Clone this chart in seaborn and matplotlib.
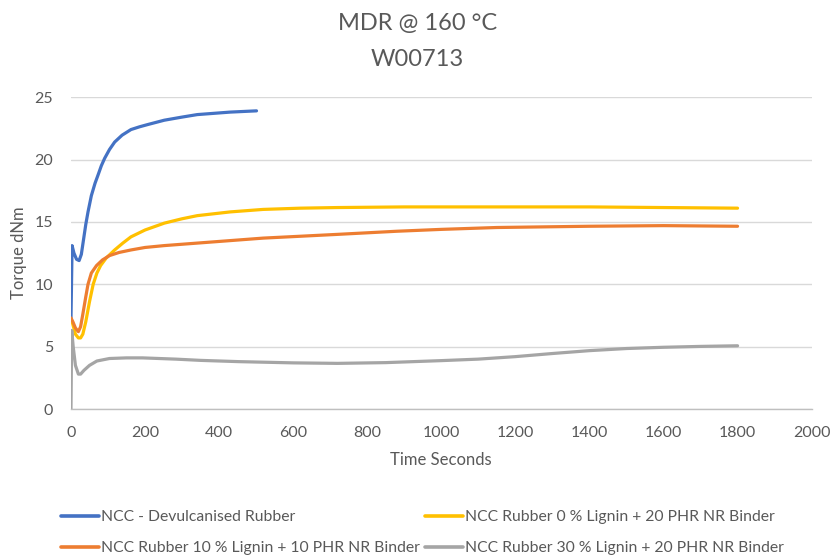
import matplotlib
matplotlib.use("Agg")
import matplotlib.pyplot as plt
import seaborn as sns
import pandas as pd

# MDR cure curves at 160 °C, torque (dNm) vs time (s)
t_devulc = [0, 3, 8, 15, 22, 28, 33, 40, 46, 55, 65, 73, 82, 91, 104, 118, 138, 162, 185, 207,
            252, 300, 341, 430, 501]
v_devulc = [7.1, 13.1, 12.5, 12.0, 11.9, 12.4, 13.4, 14.8, 15.8, 17.1, 18.1, 18.75, 19.5, 20.1,
            20.8, 21.4, 21.95, 22.4, 22.62, 22.8, 23.15, 23.4, 23.6, 23.8, 23.9]

t_lig0 = [0, 5, 12, 20, 26, 32, 40, 50, 60, 70, 80, 95, 118, 140, 162, 200, 252, 300, 341, 430,
          519, 620, 720, 900, 1150, 1400, 1600, 1800]
v_lig0 = [7.2, 6.8, 6.0, 5.7, 5.7, 6.0, 7.0, 8.6, 10.0, 10.9, 11.5, 12.1, 12.75, 13.3, 13.8,
          14.35, 14.9, 15.25, 15.5, 15.8, 16.0, 16.1, 16.15, 16.2, 16.2, 16.2, 16.15, 16.1]

t_lig10 = [0, 5, 12, 20, 26, 32, 40, 46, 55, 69, 85, 104, 130, 162, 200, 252, 341, 430, 519,
           620, 720, 880, 1000, 1150, 1400, 1600, 1800]
v_lig10 = [7.3, 7.0, 6.5, 6.2, 6.6, 7.6, 9.0, 10.0, 10.9, 11.5, 11.95, 12.3, 12.55, 12.75, 12.95,
           13.1, 13.3, 13.5, 13.7, 13.85, 14.0, 14.25, 14.4, 14.55, 14.65, 14.7, 14.65]

t_lig30 = [0, 2, 6, 12, 20, 26, 35, 50, 70, 104, 150, 193, 283, 350, 452, 600, 720, 850, 1000,
           1100, 1200, 1300, 1400, 1500, 1600, 1700, 1800]
v_lig30 = [0, 6.3, 5.0, 3.5, 2.8, 2.8, 3.1, 3.5, 3.85, 4.05, 4.1, 4.1, 4.0, 3.9, 3.8, 3.7, 3.66,
           3.72, 3.88, 4.0, 4.2, 4.45, 4.68, 4.85, 4.95, 5.02, 5.07]

series_names = [
    "NCC - Devulcanised Rubber",
    "NCC Rubber 0 % Lignin + 20 PHR NR Binder",
    "NCC Rubber 10 % Lignin + 10 PHR NR Binder",
    "NCC Rubber 30 % Lignin + 20 PHR NR Binder",
]
series_colors = ["#4472C4", "#FFC000", "#ED7D31", "#A5A5A5"]

x_ticks = [0, 200, 400, 600, 800, 1000, 1200, 1400, 1600, 1800, 2000]
y_ticks = [0, 5, 10, 15, 20, 25]

frames = []
for name, t, v in zip(series_names,
                      [t_devulc, t_lig0, t_lig10, t_lig30],
                      [v_devulc, v_lig0, v_lig10, v_lig30]):
    frames.append(pd.DataFrame({"Time": t, "Torque": v, "Series": name}))
df = pd.concat(frames, ignore_index=True)

sns.set_theme(style="white")
plt.rcParams["font.family"] = ["Lato", "DejaVu Sans"]

text_color = "#595959"
fig = plt.figure(figsize=(8.35, 5.55), dpi=100)
ax = fig.add_axes([0.085, 0.263, 0.887, 0.562])

sns.lineplot(data=df, x="Time", y="Torque", hue="Series", hue_order=series_names,
             palette=series_colors, estimator=None, linewidth=2.3, ax=ax, legend=False)

ax.set_xlim(0, 2000)
ax.set_ylim(0, 25)
ax.set_xticks(x_ticks)
ax.set_yticks(y_ticks)
ax.set_xticklabels([str(x) for x in x_ticks], fontsize=11.5, color=text_color)
ax.set_yticklabels([str(y) for y in y_ticks], fontsize=11.5, color=text_color)
ax.tick_params(axis="x", length=0, pad=12)
ax.tick_params(axis="y", length=0, pad=13)
ax.yaxis.grid(True, color="#d9d9d9", linewidth=1)
ax.xaxis.grid(False)
ax.set_axisbelow(True)
for side in ["top", "right", "left"]:
    ax.spines[side].set_visible(False)
ax.spines["bottom"].set_color("#bfbfbf")
ax.spines["bottom"].set_linewidth(1)

ax.set_xlabel("Time Seconds", fontsize=12, color=text_color, labelpad=9)
ax.set_ylabel("Torque dNm", fontsize=12, color=text_color, labelpad=5)

fig.text(0.5, 0.957, "MDR @ 160 °C", ha="center", va="center", fontsize=17, color=text_color)
fig.text(0.5, 0.892, "W00713", ha="center", va="center", fontsize=17, color=text_color)

# legend laid out column-wise: left column blue/orange, right column yellow/grey
order = [0, 2, 1, 3]
handles = [plt.Line2D([], [], color=series_colors[i], linewidth=2.6) for i in order]
labels = [series_names[i] for i in order]
fig.legend(handles, labels, loc="lower left", bbox_to_anchor=(0.056, -0.026), ncol=2,
           frameon=False, fontsize=11.3, labelcolor=text_color, handlelength=2.4,
           handletextpad=0.15, columnspacing=0.35, labelspacing=1.1)

fig.savefig("out.png", dpi=100)
